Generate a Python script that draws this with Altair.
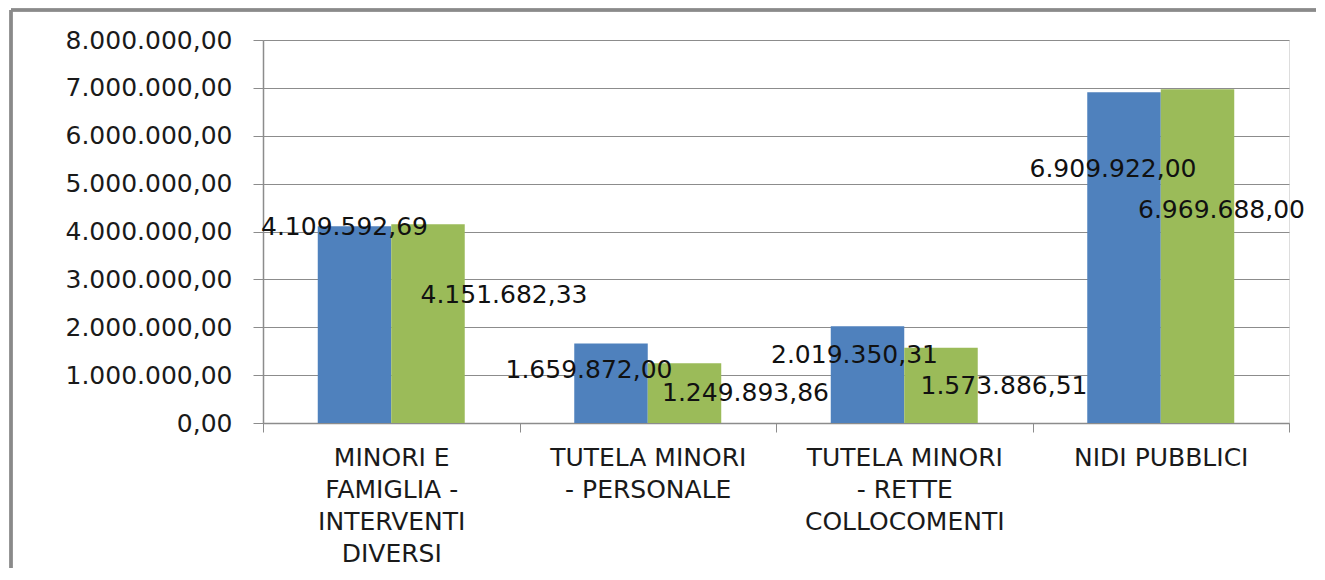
import altair as alt
import pandas as pd

# ---- data ----
categories = [
    "MINORI E\nFAMIGLIA -\nINTERVENTI\nDIVERSI",
    "TUTELA MINORI\n- PERSONALE",
    "TUTELA MINORI\n- RETTE\nCOLLOCOMENTI",
    "NIDI PUBBLICI",
]
series = ["Serie1", "Serie2"]
values_blue = [4109592.69, 1659872.00, 2019350.31, 6909922.00]
values_green = [4151682.33, 1249893.86, 1573886.51, 6969688.00]
y_ticks = [0, 1000000, 2000000, 3000000, 4000000, 5000000, 6000000, 7000000, 8000000]

# ---- styles ----
COLORS = ["#4F81BD", "#9BBB59"]
FONT = "DejaVu Sans"
FS = 25
GRID = "#8c8c8c"
# label offsets (pixels from the top-centre of each bar), blue then green
LABEL_DX = [[-10, -22, -13, -11], [76, 61, 63, 24]]
LABEL_DY = [[1, 26, 29, 77], [71, 30, 38, 121]]

rows = []
for i, c in enumerate(categories):
    rows.append({"cat": c, "serie": series[0], "val": values_blue[i], "idx": i, "s": 0})
    rows.append({"cat": c, "serie": series[1], "val": values_green[i], "idx": i, "s": 1})
df = pd.DataFrame(rows)

it_fmt = "replace(replace(replace(format({v}, ',.2f'), regexp(',', 'g'), '_'), '.', ','), regexp('_', 'g'), '.')"

x_enc = alt.X(
    "cat:N",
    sort=categories,
    scale=alt.Scale(paddingInner=0, paddingOuter=0),
    axis=alt.Axis(
        title=None,
        labelExpr="isValid(datum.value) ? split(datum.value, '\\n') : ''",
        labelAngle=0,
        labelFont=FONT,
        labelFontSize=FS,
        labelColor="#1a1a1a",
        labelLineHeight=32,
        labelPadding=13,
        labelBaseline="top",
        labelLimit=400,
        tickBand="extent",
        tickSize=9,
        tickColor=GRID,
        domainColor=GRID,
        domainWidth=1.5,
        grid=False,
    ),
)
xoff_enc = alt.XOffset("serie:N", sort=series, scale=alt.Scale(paddingOuter=0.745, paddingInner=0))
y_enc = alt.Y(
    "val:Q",
    scale=alt.Scale(domain=[0, 8000000], nice=False),
    axis=alt.Axis(
        title=None,
        values=y_ticks,
        labelExpr=it_fmt.format(v="datum.value"),
        labelFont=FONT,
        labelFontSize=FS,
        labelColor="#1a1a1a",
        labelPadding=21,
        tickSize=10,
        tickColor=GRID,
        gridColor=GRID,
        domainColor=GRID,
        domainWidth=1.5,
    ),
)

bars = alt.Chart(df).mark_bar().encode(
    x=x_enc,
    xOffset=xoff_enc,
    y=y_enc,
    color=alt.Color("serie:N", scale=alt.Scale(domain=series, range=COLORS), legend=None),
)

layers = [bars]
for s in range(2):
    for i in range(len(categories)):
        t = (
            alt.Chart(df)
            .transform_filter(f"datum.idx == {i} && datum.s == {s}")
            .transform_calculate(lab=it_fmt.format(v="datum.val"))
            .mark_text(
                font=FONT,
                fontSize=FS,
                color="#111111",
                baseline="middle",
                align="center",
                dx=LABEL_DX[s][i],
                dy=LABEL_DY[s][i],
            )
            .encode(x=alt.X("cat:N", sort=categories), xOffset=alt.XOffset("serie:N", sort=series), y="val:Q", text="lab:N")
        )
        layers.append(t)

frame_top = alt.Chart(df).mark_rule(color="#8a8a8a", strokeWidth=2.5).encode(
    x=alt.value(-252), x2=alt.value(1053), y=alt.value(-30)
)
frame_left = alt.Chart(df).mark_rule(color="#8a8a8a", strokeWidth=2.5).encode(
    x=alt.value(-252), y=alt.value(-30), y2=alt.value(528)
)
layers += [frame_top, frame_left]

chart = (
    alt.layer(*layers)
    .properties(
        width=1026,
        height=383,
        autosize=alt.AutoSizeParams(type="none"),
        padding={"left": 255, "top": 32, "right": 27, "bottom": 145},
    )
    .configure_view(stroke=None)
    .configure(background="white")
)

chart.save("out.html", embed_options={"renderer": "svg", "actions": False})
